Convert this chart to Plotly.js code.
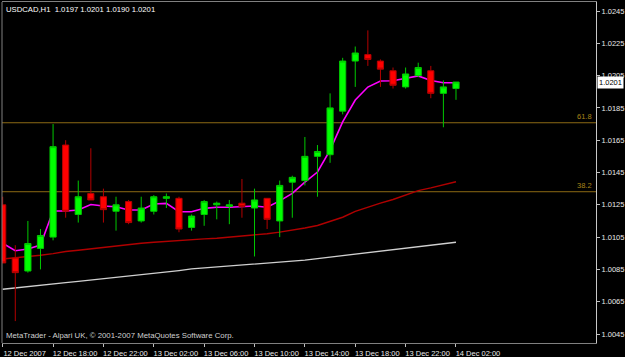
<!DOCTYPE html>
<html>
<head>
<meta charset="utf-8">
<script src="https://cdn.plot.ly/plotly-3.0.1.min.js"></script>
<style>html,body{margin:0;padding:0;background:#000;}#chart{width:625px;height:357px;}</style>
</head>
<body>
<div id="chart"></div>
<script>
// ---- data ----
const symbol = 'USDCAD';
const period = 'H1';
const times = [
 '2007-12-12 14:00','2007-12-12 15:00','2007-12-12 16:00','2007-12-12 17:00','2007-12-12 18:00',
 '2007-12-12 19:00','2007-12-12 20:00','2007-12-12 21:00','2007-12-12 22:00','2007-12-12 23:00',
 '2007-12-13 00:00','2007-12-13 01:00','2007-12-13 02:00','2007-12-13 03:00','2007-12-13 04:00',
 '2007-12-13 05:00','2007-12-13 06:00','2007-12-13 07:00','2007-12-13 08:00','2007-12-13 09:00',
 '2007-12-13 10:00','2007-12-13 11:00','2007-12-13 12:00','2007-12-13 13:00','2007-12-13 14:00',
 '2007-12-13 15:00','2007-12-13 16:00','2007-12-13 17:00','2007-12-13 18:00','2007-12-13 19:00',
 '2007-12-13 20:00','2007-12-13 21:00','2007-12-13 22:00','2007-12-13 23:00','2007-12-14 00:00',
 '2007-12-14 01:00','2007-12-14 02:00'
];
const openP = [1.0125,1.0092,1.0084,1.0098,1.0105,1.0162,1.0119,1.0132,1.0130,1.0121,1.0127,1.0115,1.0121,1.0129,1.0129,1.0111,1.0119,1.0125,1.0124,1.0126,1.0123,1.0129,1.0115,1.0139,1.0140,1.0155,1.0156,1.0183,1.0214,1.0218,1.0214,1.0208,1.0198,1.0205,1.0208,1.0194,1.0197];
const highP = [1.0130,1.0100,1.0115,1.0110,1.0175,1.0165,1.0140,1.0160,1.0135,1.0130,1.0128,1.0130,1.0131,1.0132,1.0130,1.0119,1.0128,1.0127,1.0128,1.0141,1.0135,1.0129,1.0140,1.0143,1.0167,1.0162,1.0194,1.0216,1.0223,1.0233,1.0215,1.0210,1.0210,1.0213,1.0211,1.0202,1.0201];
const lowP  = [1.0089,1.0053,1.0083,1.0085,1.0103,1.0117,1.0114,1.0128,1.0114,1.0109,1.0113,1.0114,1.0119,1.0123,1.0108,1.0109,1.0112,1.0116,1.0113,1.0117,1.0093,1.0110,1.0105,1.0117,1.0137,1.0130,1.0151,1.0181,1.0198,1.0211,1.0198,1.0197,1.0197,1.0204,1.0191,1.0173,1.0190];
const closeP= [1.0089,1.0083,1.0101,1.0106,1.0161,1.0121,1.0130,1.0128,1.0122,1.0125,1.0114,1.0123,1.0130,1.0130,1.0110,1.0118,1.0127,1.0126,1.0125,1.0124,1.0128,1.0116,1.0137,1.0142,1.0155,1.0158,1.0185,1.0214,1.0219,1.0215,1.0209,1.0199,1.0206,1.0210,1.0194,1.0198,1.0201];
const maFast = [1.01012,1.00966,1.00976,1.01001,1.01212,1.01212,1.01218,1.01252,1.01243,1.01238,1.01218,1.01218,1.01255,1.01259,1.01207,1.01207,1.01228,1.01235,1.01235,1.01238,1.01243,1.01235,1.01274,1.01321,1.01391,1.01453,1.01589,1.01763,1.01899,1.01979,1.02017,1.02018,1.02032,1.02048,1.02020,1.02006,1.02006];
const maMid = [1.00914,1.00921,1.00930,1.00938,1.00948,1.00961,1.00969,1.00978,1.00988,1.00996,1.01004,1.01012,1.01018,1.01024,1.01030,1.01035,1.01039,1.01043,1.01049,1.01055,1.01062,1.01071,1.01081,1.01092,1.01106,1.01122,1.01146,1.01173,1.01209,1.01236,1.01260,1.01283,1.01309,1.01338,1.01355,1.01373,1.01393];
const maSlow = [1.00727,1.00736,1.00744,1.00752,1.00760,1.00768,1.00776,1.00784,1.00792,1.00801,1.00809,1.00817,1.00826,1.00834,1.00843,1.00853,1.00859,1.00865,1.00871,1.00876,1.00882,1.00887,1.00893,1.00900,1.00908,1.00917,1.00926,1.00935,1.00945,1.00954,1.00964,1.00973,1.00981,1.00989,1.00999,1.01009,1.01018];
const fibLevels = ['61.8','38.2'];
const fibPrices = [1.01758,1.01331];
const xTickVals = ['2007-12-12 14:00','2007-12-12 18:00','2007-12-12 22:00','2007-12-13 02:00','2007-12-13 06:00','2007-12-13 10:00','2007-12-13 14:00','2007-12-13 18:00','2007-12-13 22:00','2007-12-14 02:00'];
const xTickText = ['12 Dec 2007','12 Dec 18:00','12 Dec 22:00','13 Dec 02:00','13 Dec 06:00','13 Dec 10:00','13 Dec 14:00','13 Dec 18:00','13 Dec 22:00','14 Dec 02:00'];
const yTickVals = [1.0045,1.0065,1.0085,1.0105,1.0125,1.0145,1.0165,1.0185,1.0205,1.0225,1.0245];
const yTickText = ['1.0045','1.0065','1.0085','1.0105','1.0125','1.0145','1.0165','1.0185','1.0205','1.0225','1.0245'];
const copyrightText = 'MetaTrader - Alpari UK, \u00a9 2001-2007 MetaQuotes Software Corp.';

// ---- chart ----
const F = 'Liberation Sans, Arial, sans-serif';
const xRange = ['2007-12-12 13:56:40','2007-12-14 13:07:10'];
const yRange = [1.003943,1.025057];
const n = closeP.length - 1;
const fmt = v => v.toFixed(4);

const traces = [
  {type:'scatter', mode:'lines', x:times, y:maSlow, line:{color:'#d0d0d0', width:1.3}, xaxis:'x', yaxis:'y', hoverinfo:'skip'},
  {type:'scatter', mode:'lines', x:times, y:maMid, line:{color:'#b00000', width:1.4}, xaxis:'x', yaxis:'y', hoverinfo:'skip'},
  {type:'scatter', mode:'lines', x:times, y:maFast, line:{color:'#ff00ff', width:1.6}, xaxis:'x', yaxis:'y', hoverinfo:'skip'},
  {type:'candlestick', x:times, open:openP, high:highP, low:lowP, close:closeP,
   xaxis:'x2', yaxis:'y2', whiskerwidth:0,
   increasing:{line:{color:'#00c800', width:1}, fillcolor:'#00ff00'},
   decreasing:{line:{color:'#b40000', width:1}, fillcolor:'#ff0000'},
   hoverinfo:'skip'}
];

const tickFont = {family:F, size:7.5, color:'#e8e8e8'};
const annotations = [
  {xref:'paper', yref:'paper', x:0, y:1, xanchor:'left', yanchor:'top', xshift:2, yshift:-1, showarrow:false,
   text: symbol + ',' + period + '\u00a0\u00a0' + [openP[n],highP[n],lowP[n],closeP[n]].map(fmt).join(' '),
   font:{family:F, size:7.7, color:'#ffffff'}},
  {xref:'paper', yref:'paper', x:0, y:0, xanchor:'left', yanchor:'bottom', xshift:2, yshift:1, showarrow:false,
   text: copyrightText, font:{family:F, size:7.8, color:'#d0d0d0'}},
  {xref:'paper', yref:'y', x:1, y:closeP[n], xanchor:'left', yanchor:'middle', xshift:1, showarrow:false,
   text: fmt(closeP[n]), bgcolor:'#ffffff', borderpad:1, font:{family:F, size:7.5, color:'#000000'}}
];
const shapes = [
  {type:'line', xref:'paper', yref:'paper', x0:0, x1:0, y0:0, y1:1, line:{color:'#808080', width:1}, layer:'above'}
];
fibLevels.forEach((lv,i) => {
  shapes.push({type:'line', xref:'paper', yref:'y', x0:0, x1:1, y0:fibPrices[i], y1:fibPrices[i], line:{color:'#8c6a14', width:1}, layer:'below'});
  annotations.push({xref:'paper', yref:'y', x:1, y:fibPrices[i], xanchor:'right', yanchor:'bottom', xshift:-2, yshift:0, showarrow:false,
    text: lv, font:{family:F, size:7.5, color:'#a88418'}});
});

const layout = {
  width:625, height:357,
  margin:{l:2, r:29, t:2, b:14, pad:0},
  paper_bgcolor:'#000000', plot_bgcolor:'#000000',
  showlegend:false,
  xaxis:{type:'date', range:xRange, tickvals:xTickVals, ticktext:xTickText, ticks:'outside', ticklen:3, tickcolor:'#c0c0c0',
         showgrid:false, zeroline:false, showline:true, mirror:true, linecolor:'#808080', linewidth:1,
         tickfont:tickFont, ticklabelshift:22, ticklabelstandoff:0, rangeslider:{visible:false}, fixedrange:true},
  yaxis:{range:yRange, side:'right', tickvals:yTickVals, ticktext:yTickText, ticks:'outside', ticklen:3, tickcolor:'#c0c0c0',
         showgrid:false, zeroline:false, showline:true, linecolor:'#c8c8c8', linewidth:1, tickfont:tickFont, fixedrange:true},
  xaxis2:{type:'date', range:xRange, overlaying:'x', visible:false, showgrid:false, zeroline:false, rangeslider:{visible:false}, fixedrange:true},
  yaxis2:{range:yRange, overlaying:'y', visible:false, showgrid:false, zeroline:false, fixedrange:true},
  shapes:shapes,
  annotations:annotations
};

Plotly.newPlot('chart', traces, layout, {staticPlot:true, displayModeBar:false});
</script>
</body>
</html>
